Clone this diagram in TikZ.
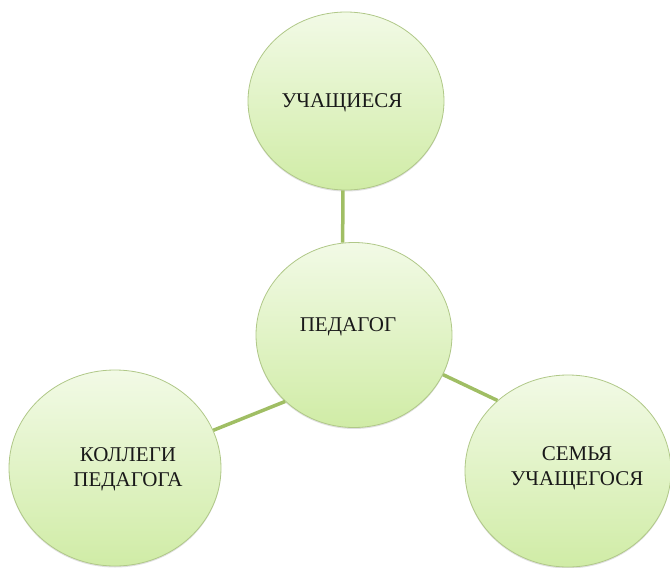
\documentclass[tikz,border=0pt]{standalone}
\usepackage{fontspec}
\setmainfont{Liberation Serif}
\usetikzlibrary{shapes.geometric, shadows}

\definecolor{LeafTop}{RGB}{242,250,230}
\definecolor{LeafBot}{RGB}{208,236,166}
\definecolor{Rim}{RGB}{176,200,136}
\definecolor{Stem}{RGB}{160,190,100}

\begin{document}
\begin{tikzpicture}[x=1pt, y=-1pt,
    bubble/.style={ellipse, draw=Rim, line width=0.8pt, top color=LeafTop, bottom color=LeafBot, inner sep=0pt,
        drop shadow={shadow xshift=0pt, shadow yshift=-1.5pt, opacity=0.12, fill=black}},
    lbl/.style={align=center, text=black!90, font=\fontsize{21}{25}\selectfont},
    link/.style={draw=Stem, line width=3.5pt}]
        \useasboundingbox (0,0) rectangle (670,568);
        % circles
        \node[bubble, minimum width=196pt, minimum height=178pt] (pupils) at (346,101) {};
        \node[bubble, minimum width=196pt, minimum height=185pt] (teacher) at (354,335) {};
        \node[bubble, minimum width=212pt, minimum height=196pt] (colleagues) at (115,468) {};
        \node[bubble, minimum width=206pt, minimum height=192pt] (family) at (568,471) {};
        % texts
        \node[lbl] (pupilstxt) at (342,103) {УЧАЩИЕСЯ};
        \node[lbl] (teachertxt) at (348,327) {ПЕДАГОГ};
        \node[lbl] (colleaguestxt) at (128,469) {КОЛЛЕГИ\\ПЕДАГОГА};
        \node[lbl] (familytxt) at (577,468) {СЕМЬЯ\\УЧАЩЕГОСЯ};
        % links
        \draw[link] (pupils.268) -- (teacher.97);
        \draw[link] (teacher.224) -- (colleagues.21);
        \draw[link] (teacher.336) -- (family.135);
\end{tikzpicture}
\end{document}
